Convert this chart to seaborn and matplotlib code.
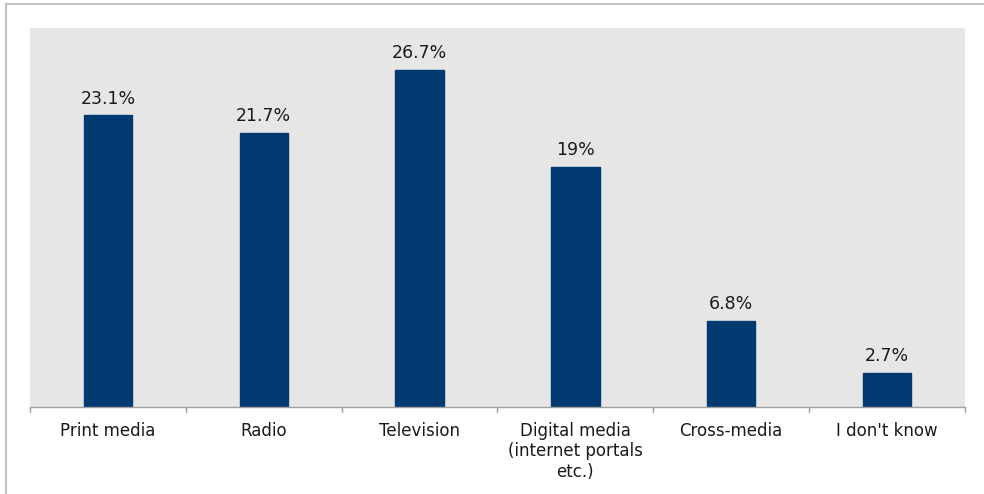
import matplotlib
matplotlib.use("Agg")
import matplotlib.pyplot as plt
import seaborn as sns
import pandas as pd
from matplotlib.patches import Rectangle

categories = ["Print media", "Radio", "Television", "Digital media\n(internet portals\netc.)", "Cross-media", "I don't know"]
values = [23.1, 21.7, 26.7, 19.0, 6.8, 2.7]
value_labels = ["23.1%", "21.7%", "26.7%", "19%", "6.8%", "2.7%"]

df = pd.DataFrame({"category": categories, "value": values})

sns.set_style("white")
plt.rcParams['font.family'] = ['DejaVu Sans']

W, H = 984, 494
fig = plt.figure(figsize=(W / 100, H / 100), dpi=100)
ax = fig.add_axes([30 / W, 1 - 407 / H, (965 - 30) / W, (407 - 28) / H])

sns.barplot(data=df, x="category", y="value", color="#003A70", width=0.31,
            saturation=1, ax=ax, edgecolor="#003A70")
ax.set_facecolor("#E6E6E6")
ax.set_ylim(0, 30)
ax.set_xlim(-0.5, len(categories) - 0.5)
ax.set_yticks([])
ax.set_xlabel("")
ax.set_ylabel("")
for s in ["top", "right", "left"]:
    ax.spines[s].set_visible(False)
ax.spines["bottom"].set_color("#A0A0A0")
ax.spines["bottom"].set_linewidth(1)

ax.set_xticks(range(len(categories)))
ax.set_xticklabels(categories, fontsize=12, color="#1A1A1A", linespacing=1.2)
ax.tick_params(axis="x", length=0, pad=10.5)
# boundary ticks
for b in [i - 0.5 for i in range(len(categories) + 1)]:
    ax.plot([b, b], [0, -0.4], color="#A0A0A0", lw=1, clip_on=False)

for i, (v, lab) in enumerate(zip(values, value_labels)):
    ax.annotate(lab, (i, v), xytext=(0, 5.5), textcoords="offset points",
                ha="center", va="bottom", fontsize=12.5, color="#1A1A1A")

fig.patches.append(Rectangle((5.5 / W, -0.1), 1.2, 1 - 4.5 / H + 0.1,
                             transform=fig.transFigure, fill=False,
                             edgecolor="#C0C0C0", lw=1.5))

fig.savefig("out.png", dpi=100)
